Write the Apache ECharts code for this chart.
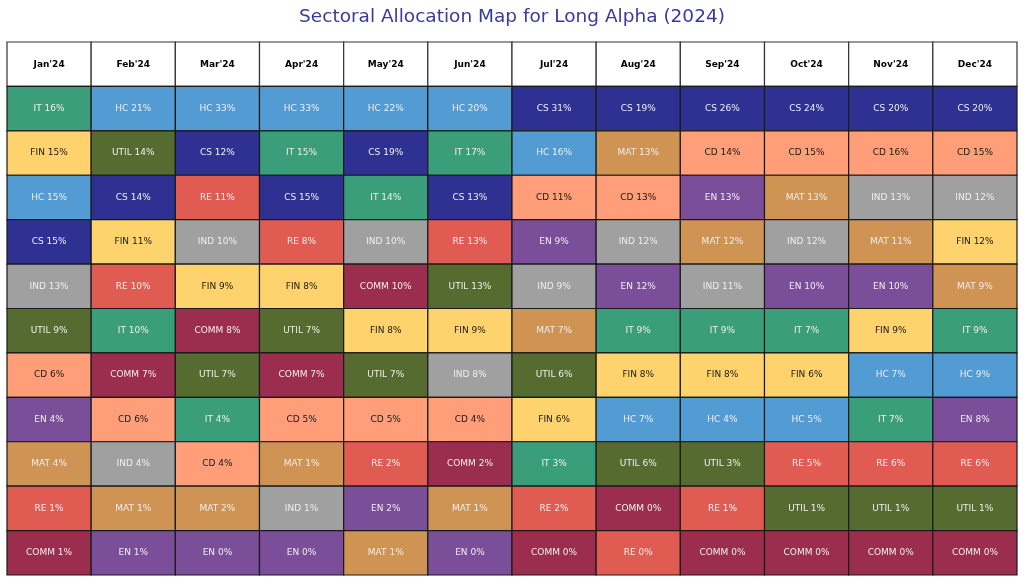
<!DOCTYPE html>
<html>
<head>
<meta charset="utf-8">
<script src="https://cdn.jsdelivr.net/npm/echarts@6/dist/echarts.min.js"></script>
<style>html,body{margin:0;padding:0;background:#fff;}#c{width:1024px;height:586px;}</style>
</head>
<body>
<div id="c"></div>
<script>
const months = ["Jan'24","Feb'24","Mar'24","Apr'24","May'24","Jun'24","Jul'24","Aug'24","Sep'24","Oct'24","Nov'24","Dec'24"];
const rankSectors = [
  ["IT","FIN","HC","CS","IND","UTIL","CD","EN","MAT","RE","COMM"],
  ["HC","UTIL","CS","FIN","RE","IT","COMM","CD","IND","MAT","EN"],
  ["HC","CS","RE","IND","FIN","COMM","UTIL","IT","CD","MAT","EN"],
  ["HC","IT","CS","RE","FIN","UTIL","COMM","CD","MAT","IND","EN"],
  ["HC","CS","IT","IND","COMM","FIN","UTIL","CD","RE","EN","MAT"],
  ["HC","IT","CS","RE","UTIL","FIN","IND","CD","COMM","MAT","EN"],
  ["CS","HC","CD","EN","IND","MAT","UTIL","FIN","IT","RE","COMM"],
  ["CS","MAT","CD","IND","EN","IT","FIN","HC","UTIL","COMM","RE"],
  ["CS","CD","EN","MAT","IND","IT","FIN","HC","UTIL","RE","COMM"],
  ["CS","CD","MAT","IND","EN","IT","FIN","HC","RE","UTIL","COMM"],
  ["CS","CD","IND","MAT","EN","FIN","HC","IT","RE","UTIL","COMM"],
  ["CS","CD","IND","FIN","MAT","IT","HC","EN","RE","UTIL","COMM"]
];
const rankValues = [
  [16,15,15,15,13,9,6,4,4,1,1],
  [21,14,14,11,10,10,7,6,4,1,1],
  [33,12,11,10,9,8,7,4,4,2,0],
  [33,15,15,8,8,7,7,5,1,1,0],
  [22,19,14,10,10,8,7,5,2,2,1],
  [20,17,13,13,13,9,8,4,2,1,0],
  [31,16,11,9,9,7,6,6,3,2,0],
  [19,13,13,12,12,9,8,7,6,0,0],
  [26,14,13,12,11,9,8,4,3,1,0],
  [24,15,13,12,10,7,6,5,5,1,0],
  [20,16,13,11,10,9,7,7,6,1,0],
  [20,15,12,12,9,9,9,8,6,1,0]
];
const rowLabels = ["header","1","2","3","4","5","6","7","8","9","10","11"];

const sectorColors = {
  IT:"#3a9e7b", HC:"#539bd3", CS:"#2e3192", FIN:"#fed36e", UTIL:"#556b2f",
  RE:"#e05c53", IND:"#a0a0a0", COMM:"#9b2d4f", CD:"#ff9e78", EN:"#7a4e99", MAT:"#cf9354"
};
const darkTextSectors = ["FIN","CD"];

const headerData = months.map((m, i) => [i, 0, m]);
const cellData = [];
months.forEach((m, i) => {
  rankSectors[i].forEach((s, r) => {
    cellData.push([i, r + 1, s, rankValues[i][r]]);
  });
});

function cellRect(api) {
  const c = api.coord([api.value(0), api.value(1)]);
  const sz = api.size([1, 1]);
  return {x: c[0] - sz[0] / 2, y: c[1] - sz[1] / 2, w: sz[0], h: sz[1], cx: c[0], cy: c[1]};
}

const chart = echarts.init(document.getElementById('c'), null, {renderer: 'canvas'});
chart.setOption({
  animation: false,
  backgroundColor: '#ffffff',
  title: {
    text: 'Sectoral Allocation Map for Long Alpha (2024)',
    left: 'center', top: 3,
    textStyle: {color: '#3a3a9e', fontSize: 18.5, fontWeight: 'normal', fontFamily: 'DejaVu Sans'}
  },
  grid: {left: 7, right: 7, top: 42, bottom: 11},
  xAxis: {type: 'category', data: months, show: false},
  yAxis: {type: 'category', data: rowLabels, inverse: true, show: false},
  series: [
    {
      type: 'custom',
      data: headerData,
      encode: {x: 0, y: 1},
      renderItem: function (params, api) {
        const r = cellRect(api);
        const label = headerData[params.dataIndex][2];
        return {
          type: 'group',
          children: [
            {type: 'rect', shape: {x: r.x, y: r.y, width: r.w, height: r.h},
             style: {fill: '#ffffff', stroke: '#333333', lineWidth: 1.2}},
            {type: 'text', style: {text: label, x: r.cx, y: r.cy, align: 'center', verticalAlign: 'middle',
             fill: '#000000', font: 'bold 9px "DejaVu Sans"'}}
          ]
        };
      }
    },
    {
      type: 'custom',
      data: cellData,
      encode: {x: 0, y: 1},
      renderItem: function (params, api) {
        const r = cellRect(api);
        const d = cellData[params.dataIndex];
        const sector = d[2];
        const dark = darkTextSectors.indexOf(sector) >= 0;
        return {
          type: 'group',
          children: [
            {type: 'rect', shape: {x: r.x, y: r.y, width: r.w, height: r.h},
             style: {fill: sectorColors[sector], stroke: '#1a1a1a', lineWidth: 1.2}},
            {type: 'text', style: {text: sector + ' ' + d[3] + '%', x: r.cx, y: r.cy, align: 'center', verticalAlign: 'middle',
             fill: dark ? '#1a1a1a' : '#eeeeee', font: '9px "DejaVu Sans"'}}
          ]
        };
      }
    }
  ]
});
</script>
</body>
</html>
